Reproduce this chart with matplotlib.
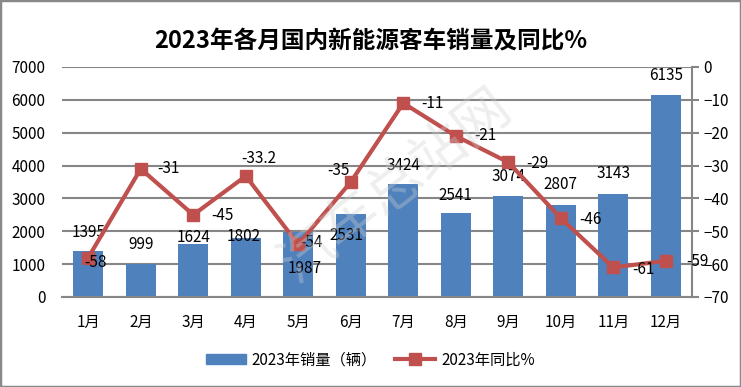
import matplotlib
matplotlib.use('Agg')
import matplotlib.pyplot as plt
from matplotlib.patches import Rectangle
from matplotlib.lines import Line2D

plt.rcParams['font.family'] = ['Noto Sans CJK SC', 'DejaVu Sans']

# data
months = ['1月', '2月', '3月', '4月', '5月', '6月', '7月', '8月', '9月', '10月', '11月', '12月']
sales = [1395, 999, 1624, 1802, 1987, 2531, 3424, 2541, 3074, 2807, 3143, 6135]
yoy = [-58, -31, -45, -33.2, -54, -35, -11, -21, -29, -46, -61, -59]
yoy_text = ['-58', '-31', '-45', '-33.2', '-54', '-35', '-11', '-21', '-29', '-46', '-61', '-59']

# label nudges in pixels (as placed in the original)
bar_lbl_off = [(0, 19), (0, 20), (0, 6), (-2, 1), (6, -37), (-4, -22),
               (0, 19), (0, 18), (0, 19), (0, 20), (0, 20), (0, 20)]
line_lbl_off = [(7, -5), (28, 0), (29, -1), (13, 18), (13, 2), (-12, 11),
                (29, 0), (30, 0), (29, -1), (30, -1), (30, -2), (32, -1)]

BLUE = '#4F81BD'
RED = '#C0504D'
GRID = '#868686'

fig = plt.figure(figsize=(7.41, 3.87), dpi=100)
ax = fig.add_axes([0.0837, 0.2326, 0.8502, 0.5943])
ax2 = ax.twinx()

x = list(range(len(months)))
ax.bar(x, sales, width=0.57, color=BLUE, zorder=2)
ax.set_xlim(-0.5, len(months) - 0.5)
ax.set_ylim(0, 7000)
ax.set_yticks(range(0, 7001, 1000))
ax.grid(axis='y', color=GRID, linewidth=1.5, zorder=0)
ax.set_axisbelow(True)
ax.set_xticks(x)
ax.set_xticklabels(months)
ax.tick_params(axis='x', length=0, pad=12, labelsize=11)
ax.tick_params(axis='y', length=0, pad=12, labelsize=11)
for s in ['top', 'left', 'right']:
    ax.spines[s].set_visible(False)
ax.spines['bottom'].set_color(GRID)
ax.spines['bottom'].set_linewidth(1.5)

ax2.plot(x, yoy, color=RED, linewidth=3, marker='s', markersize=9,
         markerfacecolor=RED, markeredgecolor=RED, zorder=3)
ax2.set_ylim(-70, 0)
ax2.set_yticks(range(-70, 1, 10))
ax2.tick_params(axis='y', direction='out', length=5, width=1.5, color=GRID, pad=3, labelsize=11)
for s in ['top', 'left', 'bottom']:
    ax2.spines[s].set_visible(False)
ax2.spines['right'].set_color(GRID)
ax2.spines['right'].set_linewidth(1.5)

# data labels
for i, v in enumerate(sales):
    ax.annotate(str(v), (i, v), xytext=bar_lbl_off[i], textcoords='offset pixels',
                ha='center', va='center', fontsize=11, zorder=5)
for i, v in enumerate(yoy):
    ax2.annotate(yoy_text[i], (i, v), xytext=line_lbl_off[i], textcoords='offset pixels',
                 ha='center', va='center', fontsize=11, zorder=5)

# faint watermark
fig.text(0.535, 0.52, '汽车总站网', fontsize=40, color='#d0d0d0', alpha=0.35,
         rotation=38, ha='center', va='center', zorder=10)

fig.suptitle('2023年各月国内新能源客车销量及同比%', y=0.925, fontsize=17, fontweight='bold')

handles = [Rectangle((0, 0), 1, 1, color=BLUE),
           Line2D([0], [0], color=RED, linewidth=3, marker='s', markersize=9)]
fig.legend(handles, ['2023年销量（辆）', '2023年同比%'], loc='center', bbox_to_anchor=(0.5, 0.07),
           ncol=2, frameon=False, fontsize=11, handlelength=2.6, columnspacing=1.2, handletextpad=0.4)

# outer border
fig.patches.append(Rectangle((0, 0), 1, 1, transform=fig.transFigure, fill=False,
                             edgecolor='#898989', linewidth=2.5))

fig.savefig('out.png', dpi=100)
